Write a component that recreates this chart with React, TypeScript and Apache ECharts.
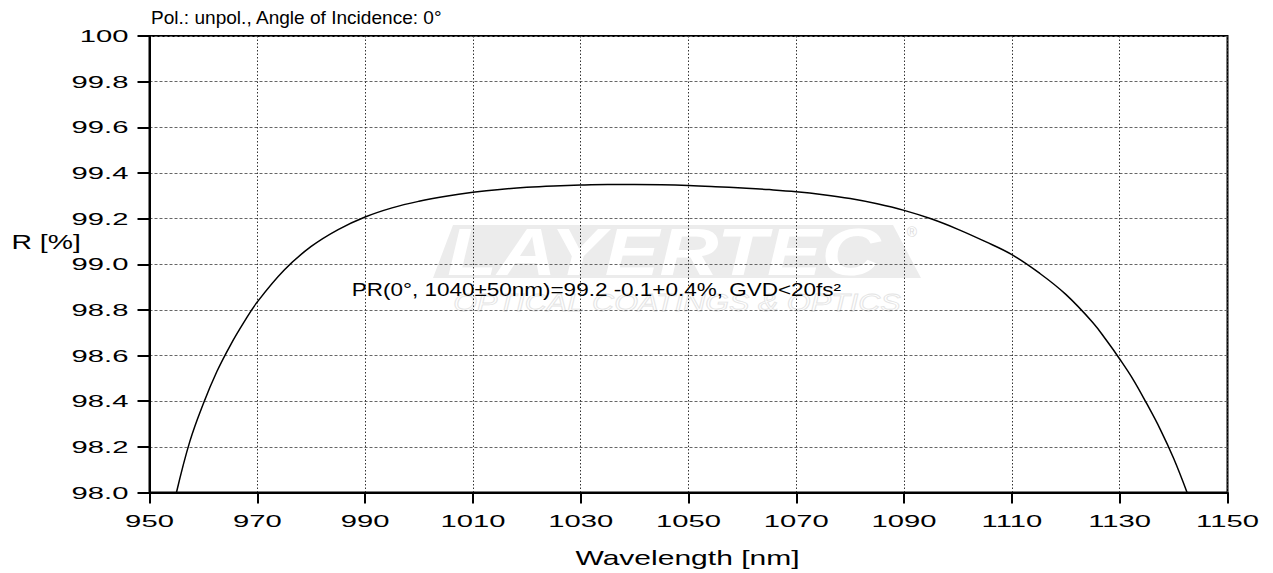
import { useEffect, useRef } from 'react';
import * as echarts from 'echarts';

const FONT = '"Liberation Sans", Arial, Helvetica, sans-serif';
const X_ORIGIN = 950;

const wavelengthNm = [
  955, 957.5, 960, 962.5, 965, 967.5, 970, 975, 980, 985, 990, 995, 1000, 1005, 1010, 1015, 1020,
  1025, 1030, 1035, 1040, 1045, 1050, 1055, 1060, 1065, 1070, 1075, 1080, 1085, 1090, 1095, 1100,
  1105, 1110, 1115, 1120, 1125, 1127.5, 1130, 1132.5, 1135, 1137.5, 1140, 1142.5,
];
const reflectancePct = [
  98.0, 98.225, 98.39, 98.53, 98.645, 98.745, 98.835, 98.975, 99.078, 99.152, 99.207, 99.247,
  99.276, 99.298, 99.315, 99.328, 99.337, 99.343, 99.347, 99.349, 99.349, 99.348, 99.345, 99.34,
  99.334, 99.327, 99.318, 99.305, 99.288, 99.265, 99.236, 99.199, 99.153, 99.1, 99.042, 98.963,
  98.868, 98.745, 98.668, 98.585, 98.495, 98.39, 98.278, 98.15, 98.0,
];

const xTickValues = [950, 970, 990, 1010, 1030, 1050, 1070, 1090, 1110, 1130, 1150];
const xTickLabels = ['950', '970', '990', '1010', '1030', '1050', '1070', '1090', '1110', '1130', '1150'];
const yTickValues = [98.0, 98.2, 98.4, 98.6, 98.8, 99.0, 99.2, 99.4, 99.6, 99.8, 100];
const yTickLabels = ['98.0', '98.2', '98.4', '98.6', '98.8', '99.0', '99.2', '99.4', '99.6', '99.8', '100'];

const titleText = 'Pol.: unpol., Angle of Incidence: 0°';
const yAxisName = 'R [%]';
const xAxisName = 'Wavelength [nm]';
const annotationText = 'PR(0°, 1040±50nm)=99.2 -0.1+0.4%, GVD<20fs²';
const watermarkMain = 'LAYERTEC';
const watermarkSub = 'OPTICAL COATINGS & OPTICS';

export default function App() {
  const ref = useRef<HTMLDivElement>(null);

  useEffect(() => {
    const el = ref.current;
    if (!el) return;
    const chart = echarts.init(el, null, { renderer: 'svg' });

    const seriesData = wavelengthNm.map((w, i) => [w - X_ORIGIN, reflectancePct[i]]);

    chart.setOption({
      animation: false,
      backgroundColor: '#ffffff',
      textStyle: { fontFamily: FONT },
      grid: {
        left: 149.5,
        right: 45.5,
        top: 36,
        bottom: 80.5,
        show: true,
        borderColor: '#000',
        borderWidth: 2,
        backgroundColor: 'transparent',
        outerBoundsMode: 'none',
      },
      xAxis: {
        type: 'value',
        min: 0,
        max: 200,
        interval: 20,
        axisLine: { show: true, onZero: false, lineStyle: { color: '#000', width: 2 } },
        axisTick: { show: true, inside: false, length: 11, lineStyle: { color: '#000', width: 2 } },
        axisLabel: { show: false },
        splitLine: { show: true, lineStyle: { color: '#333', type: [1.5, 2], width: 1 } },
      },
      yAxis: {
        type: 'value',
        min: 98,
        max: 100,
        interval: 0.2,
        axisLine: { show: true, onZero: false, lineStyle: { color: '#000', width: 2 } },
        axisTick: { show: true, inside: false, length: 12, lineStyle: { color: '#000', width: 2 } },
        axisLabel: { show: false },
        splitLine: { show: true, lineStyle: { color: '#666', type: [3, 2], width: 1 } },
      },
      series: [
        {
          type: 'line',
          data: seriesData,
          smooth: 0.4,
          symbol: 'none',
          lineStyle: { color: '#000', width: 1.5 },
          z: 5,
        },
      ],
    });

    const graphics: any[] = [];

    // watermark
    graphics.push({
      type: 'polygon',
      z: -1,
      shape: { points: [[433, 278], [453, 225], [893, 225], [921, 278]] },
      style: { fill: '#ececec' },
      silent: true,
    });
    graphics.push({
      type: 'text',
      z: -1,
      x: 664,
      y: 252,
      scaleX: 1.24,
      silent: true,
      style: {
        text: watermarkMain,
        fontSize: 66,
        fontWeight: 'bold',
        fontStyle: 'italic',
        fontFamily: FONT,
        fill: '#ffffff',
        align: 'center',
        textAlign: 'center',
        verticalAlign: 'middle',
        textVerticalAlign: 'middle',
      },
    });
    graphics.push({
      type: 'text',
      z: -1,
      x: 912,
      y: 232,
      silent: true,
      style: {
        text: '®',
        fontSize: 14,
        fontFamily: FONT,
        fill: '#dddddd',
        align: 'center',
        textAlign: 'center',
        verticalAlign: 'middle',
        textVerticalAlign: 'middle',
      },
    });
    graphics.push({
      type: 'text',
      z: -1,
      x: 677,
      y: 303,
      scaleX: 1.33,
      silent: true,
      style: {
        text: watermarkSub,
        fontSize: 23,
        fontStyle: 'italic',
        fontFamily: FONT,
        fill: 'transparent',
        stroke: '#e4e4e4',
        lineWidth: 0.8,
        align: 'center',
        textAlign: 'center',
        verticalAlign: 'middle',
        textVerticalAlign: 'middle',
      },
    });

    const textStyle = (text: string, size: number, align: string) => ({
      text,
      fontSize: size,
      fontFamily: FONT,
      fill: '#000',
      align,
      textAlign: align,
      verticalAlign: 'middle',
      textVerticalAlign: 'middle',
    });

    xTickValues.forEach((v, i) => {
      const px = chart.convertToPixel({ xAxisIndex: 0 }, v - X_ORIGIN) as number;
      graphics.push({
        type: 'text',
        x: px,
        y: 521,
        scaleX: 1.72,
        style: textStyle(xTickLabels[i], 17, 'center'),
      });
    });

    yTickValues.forEach((v, i) => {
      const py = chart.convertToPixel({ yAxisIndex: 0 }, v) as number;
      graphics.push({
        type: 'text',
        x: 128.5,
        y: py,
        scaleX: 1.72,
        style: textStyle(yTickLabels[i], 17, 'right'),
      });
    });

    graphics.push({
      type: 'text',
      x: 151,
      y: 17.5,
      scaleX: 1.06,
      style: textStyle(titleText, 18, 'left'),
    });
    graphics.push({
      type: 'text',
      x: 11.5,
      y: 241.8,
      scaleX: 1.35,
      style: textStyle(yAxisName, 21, 'left'),
    });
    graphics.push({
      type: 'text',
      x: 687.5,
      y: 557.5,
      scaleX: 1.43,
      style: textStyle(xAxisName, 21, 'center'),
    });
    graphics.push({
      type: 'text',
      x: 351.7,
      y: 289.5,
      scaleX: 1.25,
      z: 10,
      style: textStyle(annotationText, 18, 'left'),
    });

    chart.setOption({ graphic: graphics });

    return () => {
      chart.dispose();
    };
  }, []);

  return (
    <div
      ref={ref}
      style={{ position: 'absolute', left: 0, top: 0, width: 1273, height: 573 }}
    />
  );
}
